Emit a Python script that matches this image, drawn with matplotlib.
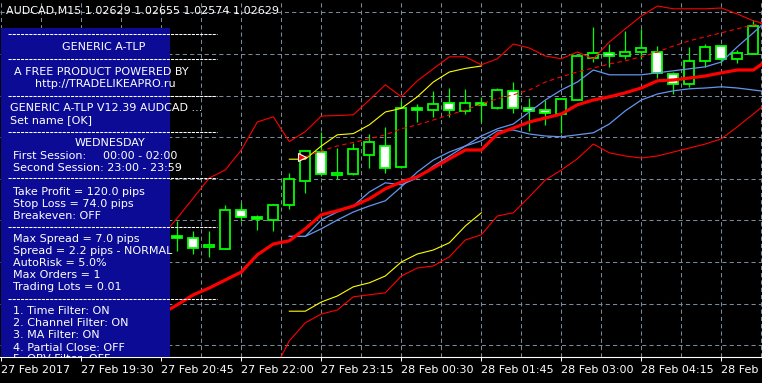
import matplotlib
matplotlib.use("Agg")
import matplotlib.pyplot as plt
import matplotlib.transforms as mtransforms
from matplotlib.patches import Rectangle
import numpy as np

plt.rcParams['font.family'] = 'DejaVu Sans'

# ---------------- data: AUDCAD M15, bar 0 = 27 Feb 18:15 ----------------
title = "AUDCAD,M15 1.02629 1.02655 1.02574 1.02629"
tick_bars = [0, 5, 10, 15, 20, 25, 30, 35, 40, 45]
tick_labels = ["27 Feb 2017", "27 Feb 19:30", "27 Feb 20:45", "27 Feb 22:00",
               "27 Feb 23:15", "28 Feb 00:30", "28 Feb 01:45", "28 Feb 03:00",
               "28 Feb 04:15", "28 Feb 05:30"]

first_bar = 11
opens = [1.02139, 1.02134, 1.02112, 1.02108, 1.02204, 1.02187, 1.02181, 1.02217, 1.02277,
         1.02351, 1.02293, 1.02294, 1.02342, 1.02365, 1.02312, 1.02460, 1.02454, 1.02472,
         1.02453, 1.02472, 1.02459, 1.02503, 1.02459, 1.02454, 1.02445, 1.02480, 1.02584,
         1.02597, 1.02590, 1.02601, 1.02601, 1.02544, 1.02519, 1.02577, 1.02615, 1.02582,
         1.02595]
highs = [1.02177, 1.02153, 1.02152, 1.02218, 1.02222, 1.02193, 1.02220, 1.02297, 1.02353,
         1.02401, 1.02359, 1.02372, 1.02394, 1.02413, 1.02478, 1.02470, 1.02503, 1.02511,
         1.02507, 1.02488, 1.02509, 1.02526, 1.02484, 1.02480, 1.02483, 1.02590, 1.02663,
         1.02619, 1.02653, 1.02657, 1.02615, 1.02551, 1.02613, 1.02620, 1.02615, 1.02605,
         1.02680]
lows = [1.02103, 1.02095, 1.02087, 1.02107, 1.02177, 1.02156, 1.02153, 1.02208, 1.02248,
        1.02290, 1.02283, 1.02293, 1.02309, 1.02298, 1.02311, 1.02426, 1.02438, 1.02437,
        1.02445, 1.02426, 1.02458, 1.02447, 1.02403, 1.02418, 1.02397, 1.02480, 1.02576,
        1.02563, 1.02582, 1.02582, 1.02534, 1.02494, 1.02512, 1.02562, 1.02572, 1.02572,
        1.02594]
closes = [1.02134, 1.02109, 1.02118, 1.02204, 1.02187, 1.02182, 1.02217, 1.02283, 1.02353,
          1.02294, 1.02297, 1.02357, 1.02376, 1.02309, 1.02459, 1.02454, 1.02469, 1.02454,
          1.02472, 1.02467, 1.02505, 1.02459, 1.02453, 1.02447, 1.02483, 1.02590, 1.02597,
          1.02590, 1.02599, 1.02609, 1.02547, 1.02519, 1.02577, 1.02612, 1.02582, 1.02597,
          1.02665]

# moving average (thick red), starts at bar 10
ma_start = 10
ma_line = [1.01945, 1.01968, 1.01993, 1.02010, 1.02030, 1.02050, 1.02093, 1.02120, 1.02128, 1.02158,
           1.02193, 1.02203, 1.02215, 1.02233, 1.02258, 1.02275, 1.02288, 1.02310, 1.02333, 1.02355,
           1.02355, 1.02395, 1.02410, 1.02425, 1.02435, 1.02445, 1.02468, 1.02480, 1.02488, 1.02498,
           1.02510, 1.02528, 1.02530, 1.02535, 1.02540, 1.02548, 1.02555, 1.02555, 1.02583]

# channel (thin red)
up_start = 10
band_upper = [1.02138, 1.02185, 1.02235, 1.02285, 1.02305, 1.02355, 1.02425, 1.02438, 1.02376, 1.02401,
              1.02440, 1.02441, 1.02443, 1.02480, 1.02518, 1.02488, 1.02528, 1.02558, 1.02588, 1.02588,
              1.02568, 1.02583, 1.02620, 1.02610, 1.02590, 1.02583, 1.02600, 1.02583, 1.02625, 1.02658,
              1.02690, 1.02715, 1.02708, 1.02708, 1.02708, 1.02710, 1.02695, 1.02678, 1.02668]
lo_start = 17
band_lower = [1.01800, 1.01878, 1.01923,
              1.01945, 1.01955, 1.01988, 1.01993, 1.01998, 1.02040, 1.02060, 1.02065, 1.02088, 1.02130,
              1.02143, 1.02190, 1.02198, 1.02238, 1.02280, 1.02305, 1.02333, 1.02370, 1.02348, 1.02340,
              1.02335, 1.02340, 1.02350, 1.02360, 1.02370, 1.02383, 1.02413, 1.02445, 1.02478]
mid_start = 19
band_mid = [1.02338,
            1.02353, 1.02365, 1.02374, 1.02383, 1.02393, 1.02408, 1.02418, 1.02430, 1.02443, 1.02455,
            1.02470, 1.02483, 1.02493, 1.02505, 1.02525, 1.02538, 1.02550, 1.02560, 1.02570, 1.02578,
            1.02588, 1.02600, 1.02615, 1.02628, 1.02638, 1.02648, 1.02658, 1.02668, 1.02675]

# blue lines, start at bar 18
blue_start = 18
blue_a = [1.02139, 1.02139,
          1.02180, 1.02200, 1.02215, 1.02250, 1.02273, 1.02268, 1.02285, 1.02315, 1.02340, 1.02365,
          1.02378, 1.02403, 1.02405, 1.02395, 1.02390, 1.02388, 1.02393, 1.02398, 1.02420, 1.02453,
          1.02480, 1.02495, 1.02503, 1.02508, 1.02510, 1.02513, 1.02510, 1.02505, 1.02500]
blue_b = [1.02139, 1.02139,
          1.02158, 1.02180, 1.02200, 1.02215, 1.02228, 1.02263, 1.02300, 1.02330, 1.02350, 1.02365,
          1.02390, 1.02408, 1.02420, 1.02450, 1.02480, 1.02505, 1.02525, 1.02555, 1.02543, 1.02543,
          1.02543, 1.02548, 1.02553, 1.02558, 1.02563, 1.02575, 1.02613, 1.02648, 1.02685]

# yellow lines, bars 18..30
yellow_start = 18
yellow_up = [1.02332, 1.02332, 1.02365, 1.02393, 1.02396, 1.02418, 1.02450, 1.02459, 1.02488,
             1.02525, 1.02550, 1.02559, 1.02565]
yellow_low = [1.01952, 1.01952, 1.01975, 1.01990, 1.02013, 1.02023, 1.02040, 1.02075, 1.02095,
              1.02105, 1.02123, 1.02165, 1.02198]

signal_bar = [19]
signal_price = [1.02337]

panel_lines = [
    ("GENERIC A-TLP", 104, 46.5, "center"),
    ("A FREE PRODUCT POWERED BY", 101.5, 71, "center"),
    ("http://TRADELIKEAPRO.ru", 105.5, 82.7, "center"),
    ("GENERIC A-TLP V12.39 AUDCAD ...", 10, 106.7, "left"),
    ("Set name [OK]", 10, 118.7, "left"),
    ("WEDNESDAY", 109.7, 142.3, "center"),
    ("First Session:", 13, 155, "left"),
    ("00:00 - 02:00", 103, 155, "left"),
    ("Second Session: 23:00 - 23:59", 13, 166.7, "left"),
    ("Take Profit = 120.0 pips", 13, 191, "left"),
    ("Stop Loss = 74.0 pips", 13, 203, "left"),
    ("Breakeven: OFF", 13, 215, "left"),
    ("Max Spread = 7.0 pips", 13, 238.5, "left"),
    ("Spread = 2.2 pips - NORMAL", 13, 250.3, "left"),
    ("AutoRisk = 5.0%", 13, 262.5, "left"),
    ("Max Orders = 1", 13, 274.3, "left"),
    ("Trading Lots = 0.01", 13, 286.2, "left"),
    ("1. Time Filter: ON", 13, 310, "left"),
    ("2. Channel Filter: ON", 13, 322.3, "left"),
    ("3. MA Filter: ON", 13, 334.3, "left"),
    ("4. Partial Close: OFF", 13, 346.7, "left"),
    ("5. OBV Filter: OFF", 13, 358.5, "left"),
]
separator_rows = [34, 59, 96, 131.7, 178.3, 226.7, 299.3]

# ---------------- figure ----------------
W, H = 762, 383
fig = plt.figure(figsize=(W / 100, H / 100), dpi=100, facecolor="black")
ax = fig.add_axes([0, 26 / H, 1, 357 / H])
ax.set_facecolor("black")
ax.set_xlim(-0.08, 47.54)
ax.set_ylim(1.018375, 1.02730)

# pixel transform for the overlay objects (origin top-left)
px = mtransforms.Affine2D().scale(1, -1).translate(0, H)

grid_col = "#7b8a9a"
for xv in np.arange(0, 48, 2.5):
    ax.axvline(xv, color=grid_col, lw=0.75, ls=(0, (4, 3)), zorder=0.5)
for yv in 1.02699 - 0.00104 * np.arange(9):
    ax.axhline(yv, color=grid_col, lw=0.75, ls=(0, (4, 3)), zorder=0.5)

# candles
lime = "#00ff00"
bw = 0.62
for k in range(len(opens)):
    i = first_bar + k
    o, h, l, c = opens[k], highs[k], lows[k], closes[k]
    ax.plot([i, i], [l, h], color=lime, lw=0.9, zorder=2, solid_capstyle="butt")
    fill = "black" if c >= o else "white"
    ax.add_patch(Rectangle((i - bw / 2, min(o, c)), bw, max(abs(c - o), 0.00002),
                           facecolor=fill, edgecolor=lime, lw=1.3, zorder=3))

def xs(start, vals):
    return np.arange(start, start + len(vals))

ax.plot(xs(yellow_start, yellow_up), yellow_up, color="yellow", lw=0.8, zorder=4)
ax.plot(xs(yellow_start, yellow_low), yellow_low, color="yellow", lw=0.8, zorder=4)
ax.plot(xs(up_start, band_upper), band_upper, color="red", lw=0.8, zorder=4)
ax.plot(xs(lo_start, band_lower), band_lower, color="red", lw=0.8, zorder=4)
ax.plot(xs(mid_start, band_mid), band_mid, color="red", lw=0.8, ls=(0, (4, 3)), zorder=4)
ax.plot(xs(blue_start, blue_a), blue_a, color="#6495ed", lw=0.9, zorder=4)
ax.plot(xs(blue_start, blue_b), blue_b, color="#6495ed", lw=0.9, zorder=4)
ax.plot(xs(ma_start, ma_line), ma_line, color="red", lw=2.3, zorder=4.5)

shift = ax.transData + mtransforms.ScaledTranslation(-3 / 100, 0, fig.dpi_scale_trans)
ax.plot(signal_bar, signal_price, marker=">", ms=6, color="red", mec="white", mew=0.8,
        ls="none", transform=shift, zorder=4.6)

# info panel
ax.add_patch(Rectangle((1, 28.3), 169, 340, transform=px, facecolor="#0b0b96",
                       edgecolor="none", zorder=5))
for yy in separator_rows:
    ax.plot([8, 217], [yy, yy], transform=px, color="white", lw=0.75, ls=(0, (3, 1)), zorder=6)
for txt, x0, y0, ha in panel_lines:
    ax.text(x0, y0 + 4, txt, transform=px, color="white", fontsize=8, ha=ha,
            va="baseline", zorder=6, clip_on=True)

ax.text(6, 14, title, transform=px, color="white", fontsize=8, ha="left",
        va="baseline", zorder=6)

# axes frame / time scale
for s in ["top", "left", "right"]:
    ax.spines[s].set_visible(False)
ax.spines["bottom"].set_color("white")
ax.spines["bottom"].set_linewidth(0.8)
ax.set_yticks([])
ax.set_xticks(tick_bars)
ax.set_xticklabels(tick_labels, ha="left")
ax.tick_params(axis="x", colors="white", length=3, width=0.75, pad=2.8, labelsize=8)

fig.savefig("out.png", dpi=100, facecolor="black")
